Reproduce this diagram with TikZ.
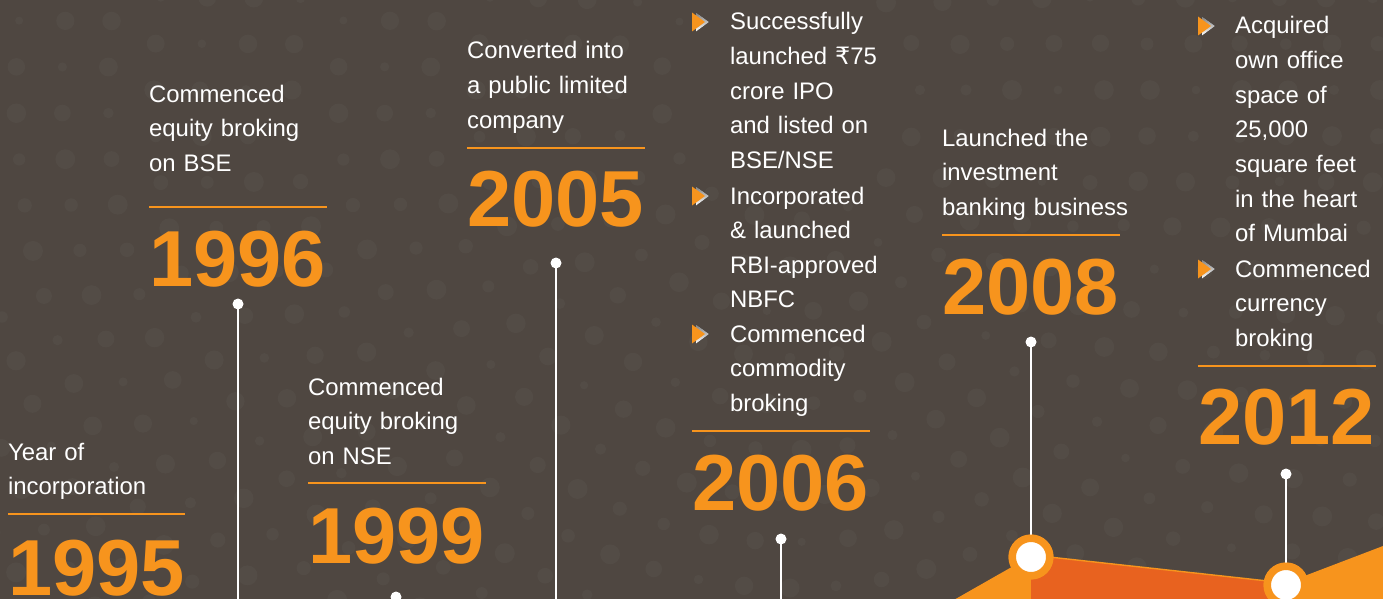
\documentclass[tikz,border=0pt]{standalone}
\usepackage{fontspec}
\setmainfont{Liberation Sans}
\newfontfamily\rupeefont{DejaVu Sans}
\definecolor{bg}{HTML}{4F4741}
\definecolor{dotc}{HTML}{534C46}
\definecolor{amber}{HTML}{F7941D}
\definecolor{rust}{HTML}{E8621F}
\definecolor{shade}{HTML}{221D1A}
\newcommand{\tick}[2]{% bullet arrow at (x,y)
  \fill[shade] (#1+4,#2-9.5) -- (#1+17,#2) -- (#1+4,#2+9.5) -- cycle;
  \fill[amber] (#1,#2-9.5) -- (#1+13,#2) -- (#1,#2+9.5) -- cycle;}
\begin{document}
\begin{tikzpicture}[x=0.05cm,y=-0.05cm,
  desc/.style={text=white, font=\fontsize{34}{49.3}\selectfont, anchor=base west,
    inner sep=0pt, text width=12cm, align=left},
  year/.style={text=amber, font=\fontsize{113}{113}\selectfont\bfseries,
    anchor=base west, inner sep=0pt},
  rule/.style={draw=amber, line width=4pt},
  stem/.style={draw=white, line width=3.5pt},
  pin/.style={circle, fill=white, inner sep=0pt, minimum size=0.55cm},
  hub/.style={circle, fill=white, draw=amber, line width=10.6pt,
    minimum size=1.875cm, inner sep=0pt},
]
\useasboundingbox (0,0) rectangle (1383,599);
\fill[bg] (0,0) rectangle (1383,599);

% faint halftone texture on concentric rings
\begin{scope}
  \clip (0,0) rectangle (1383,599);
  \foreach \r in {130,176,...,1100} {
    \pgfmathtruncatemacro{\n}{2*3.1416*\r/46}
    \foreach \k in {1,...,\n} {
      \pgfmathsetmacro{\dr}{4+6*abs(sin(mod(\k*53,360)+mod(\r*7,360)))}
      \pgfmathsetmacro{\ang}{\k/\n*360}
      \fill[dotc, shift={(790,90)}] (\ang:\r) circle (\dr);
    }
  }
\end{scope}

% bottom band
\fill[amber] (945,605) -- (1031,556) -- (1031,605) -- cycle;
\fill[rust] (1031,555) -- (1286,583) -- (1286,605) -- (1031,605) -- cycle;
\draw[amber, line width=2pt] (1031,555) -- (1286,583);
\fill[amber] (1286,583) -- (1383,546) -- (1383,605) -- (1286,605) -- cycle;

% 1995
\node[desc] (t1995) at (8,460) {Year of\\incorporation};
\draw[rule] (8,514) -- (185,514);
\node[year] (y1995) at (8,595) {1995};

% 1996
\node[desc] (t1996) at (149,102) {Commenced\\equity broking\\on BSE};
\draw[rule] (149,207) -- (327,207);
\node[year] (y1996) at (149,286) {1996};
\coordinate (f1996) at (238,605);
\node[pin] (p1996) at (238,304) {};
\draw[stem] (p1996.center) -- (f1996);

% 1999
\node[desc] (t1999) at (308,395) {Commenced\\equity broking\\on NSE};
\draw[rule] (308,483) -- (486,483);
\node[year] (y1999) at (308,563) {1999};
\coordinate (f1999) at (396,605);
\node[pin] (p1999) at (396,597) {};
\draw[stem] (p1999.center) -- (f1999);

% 2005
\node[desc] (t2005) at (467,59) {Converted into\\a public limited\\company};
\draw[rule] (467,148) -- (645,148);
\node[year] (y2005) at (467,226) {2005};
\coordinate (f2005) at (556,605);
\node[pin] (p2005) at (556,263) {};
\draw[stem] (p2005.center) -- (f2005);

% 2006
\tick{692}{22}
\node[desc] (a2006) at (730,30) {Successfully\\launched {\rupeefont ₹}75\\crore IPO\\and listed on\\BSE/NSE};
\tick{692}{196}
\node[desc] (b2006) at (730,204) {Incorporated\\\& launched\\RBI-approved\\NBFC};
\tick{692}{334}
\node[desc] (c2006) at (730,342) {Commenced\\commodity\\broking};
\draw[rule] (692,431) -- (870,431);
\node[year] (y2006) at (692,510) {2006};
\coordinate (f2006) at (781,605);
\node[pin] (p2006) at (781,539) {};
\draw[stem] (p2006.center) -- (f2006);

% 2008
\node[desc] (t2008) at (942,146) {Launched the\\investment\\banking business};
\draw[rule] (942,235) -- (1120,235);
\node[year] (y2008) at (942,314) {2008};
\node[pin] (p2008) at (1031,342) {};
\node[hub] (h2008) at (1031,557) {};
\draw[stem] (p2008.center) -- (h2008.north);
\node[hub] at (h2008) {};

% 2012
\tick{1198}{26}
\node[desc] (a2012) at (1235,34) {Acquired\\own office\\space of\\25,000\\square feet\\in the heart\\of Mumbai};
\tick{1198}{269}
\node[desc] (b2012) at (1235,277) {Commenced\\currency\\broking};
\draw[rule] (1198,366) -- (1376,366);
\node[year] (y2012) at (1198,444) {2012};
\node[pin] (p2012) at (1286,474) {};
\node[hub] (h2012) at (1286,585) {};
\draw[stem] (p2012.center) -- (h2012.north);
\node[hub] at (h2012) {};
\end{tikzpicture}
\end{document}
